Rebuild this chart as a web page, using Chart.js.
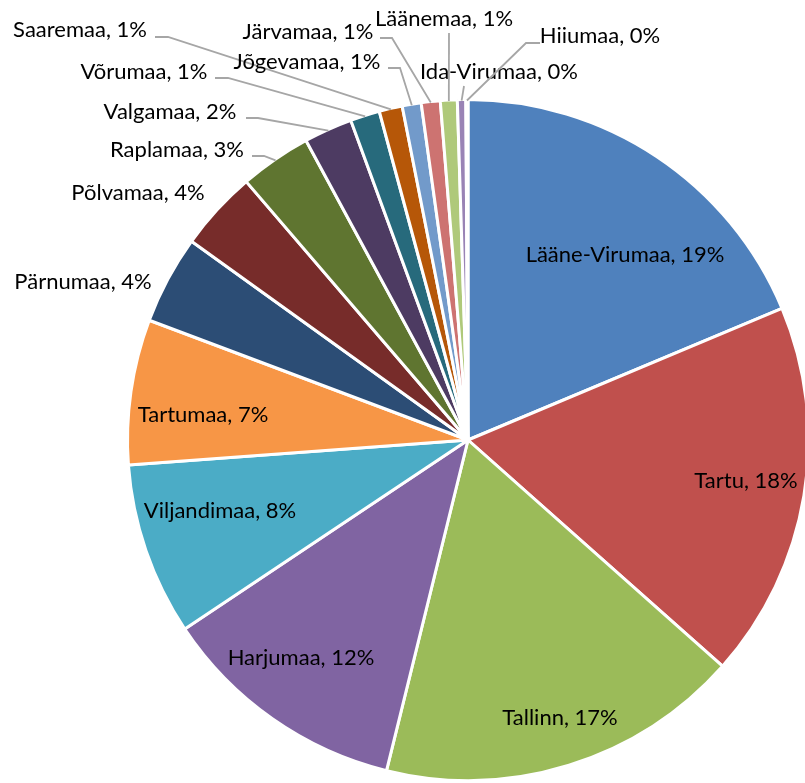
<!DOCTYPE html>
<html>
<head>
<meta charset="utf-8">
<script src="https://cdn.jsdelivr.net/npm/chart.js@4.4.1/dist/chart.umd.min.js"></script>
<style>
  html, body { margin: 0; padding: 0; background: #fff; }
  #wrap { width: 805px; height: 783px; overflow: hidden; }
</style>
</head>
<body>
<div id="wrap"><canvas id="pieChart" width="840" height="783"></canvas></div>
<script>
// counties, clockwise from 12 o'clock
const regions = ['Lääne-Virumaa', 'Tartu', 'Tallinn', 'Harjumaa', 'Viljandimaa', 'Tartumaa',
    'Pärnumaa', 'Põlvamaa', 'Raplamaa', 'Valgamaa', 'Võrumaa', 'Saaremaa',
    'Jõgevamaa', 'Järvamaa', 'Läänemaa', 'Ida-Virumaa', 'Hiiumaa'];
const shares = [18.7, 17.9, 17.3, 11.8, 8.2, 6.9, 4.2, 3.8, 3.4, 2.3, 1.4, 1.1, 0.9, 0.9, 0.8, 0.4, 0.1];
const sliceColors = ['#4F81BD', '#C0504D', '#9BBB59', '#8064A2', '#4BACC6', '#F79646',
    '#2C4D75', '#772C2A', '#5F7530', '#4D3B62', '#276A7C', '#B65708',
    '#729ACA', '#CD7371', '#AFC97A', '#9983B5', '#6FBDD1'];

// where each label sits (text centre) and the leader elbow for the outside ones
const labelSpots = [
    { x: 625, y: 255 }, { x: 746, y: 481 }, { x: 560, y: 718 }, { x: 301, y: 658 },
    { x: 220, y: 511 }, { x: 203, y: 415 }, { x: 83, y: 282 }, { x: 138, y: 193 },
    { x: 177, y: 150, line: [[252, 156], [264, 156]] },
    { x: 170, y: 112, line: [[246, 118], [258, 118]] },
    { x: 144, y: 72, line: [[215, 78], [228, 78]] },
    { x: 80, y: 30, line: [[155, 37], [168, 37]] },
    { x: 307, y: 62, line: [[388, 68], [400, 68]] },
    { x: 308, y: 32, line: [[380, 38], [392, 38]] },
    { x: 444, y: 19, line: [[449, 33]] },
    { x: 499, y: 72, line: [[464, 86]] },
    { x: 600, y: 36, line: [[540, 43], [526, 43]] }
];

const total = shares.reduce((a, b) => a + b, 0);

const sliceLabels = {
    id: 'sliceLabels',
    afterDatasetsDraw(chart) {
        const ctx = chart.ctx;
        const meta = chart.getDatasetMeta(0);
        ctx.save();
        meta.data.forEach((arc, i) => {
            const spot = labelSpots[i];
            if (spot.line) {
                const mid = (arc.startAngle + arc.endAngle) / 2;
                const ex = arc.x + Math.cos(mid) * (arc.outerRadius - 1);
                const ey = arc.y + Math.sin(mid) * (arc.outerRadius - 1);
                ctx.beginPath();
                ctx.strokeStyle = '#A6A6A6';
                ctx.lineWidth = 1.8;
                ctx.moveTo(spot.line[0][0], spot.line[0][1]);
                spot.line.slice(1).forEach(p => ctx.lineTo(p[0], p[1]));
                ctx.lineTo(ex, ey);
                ctx.stroke();
            }
            const pct = Math.round(shares[i] / total * 100);
            ctx.fillStyle = '#000';
            ctx.font = '22px Lato, "Open Sans", sans-serif';
            ctx.textAlign = 'center';
            ctx.textBaseline = 'middle';
            ctx.fillText(regions[i] + ', ' + pct + '%', spot.x, spot.y);
        });
        ctx.restore();
    }
};

function renderPie() {
    const ctx = document.getElementById('pieChart').getContext('2d');
    new Chart(ctx, {
        type: 'pie',
        data: {
            labels: regions,
            datasets: [{
                data: shares,
                backgroundColor: sliceColors,
                borderColor: '#ffffff',
                borderWidth: 3
            }]
        },
        options: {
            responsive: false,
            animation: false,
            layout: { padding: { left: 126, right: 30, top: 98, bottom: 1 } },
            plugins: {
                legend: { display: false },
                tooltip: { enabled: false }
            }
        },
        plugins: [sliceLabels]
    });
}

document.addEventListener('DOMContentLoaded', renderPie);
</script>
</body>
</html>
